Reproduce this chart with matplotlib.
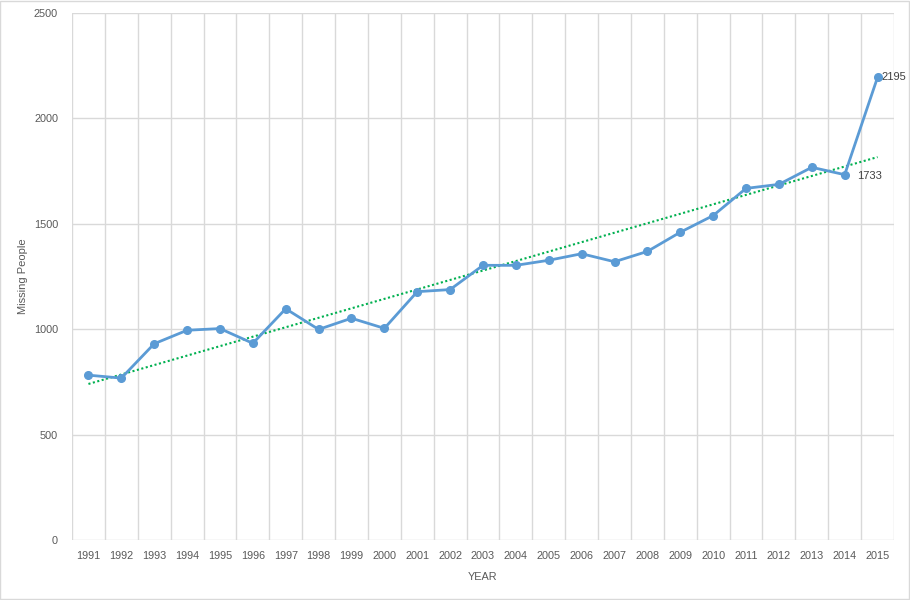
import numpy as np
import matplotlib
matplotlib.use("Agg")
import matplotlib.pyplot as plt

years = [str(y) for y in range(1991, 2016)]
missing = [782, 768, 931, 995, 1003, 933, 1097, 999, 1052, 1004,
           1178, 1188, 1303, 1303, 1327, 1358, 1320, 1369, 1460, 1539,
           1668, 1687, 1768, 1733, 2195]
labelled = {23: "1733", 24: "2195"}

plt.rcParams["font.family"] = ["Liberation Sans", "DejaVu Sans"]
grey = "#595959"
grid = "#D9D9D9"

fig = plt.figure(figsize=(9.1, 6), dpi=100)
ax = fig.add_axes([72 / 910, 60 / 600, 822 / 910, 527 / 600])

x = np.arange(len(years))
ax.plot(x, missing, color="#5B9BD5", lw=2, marker="o", ms=5.5, zorder=3)

# linear trendline like excel
k, b = np.polyfit(x, missing, 1)
ax.plot(x, k * x + b, color="#00B050", lw=1.5, ls=(0, (1, 1.2)), zorder=2)

ax.annotate(labelled[24], (x[24], missing[24]), xytext=(3, 0),
            textcoords="offset points", va="center", ha="left",
            fontsize=8, color="#404040")
ax.annotate(labelled[23], (x[23], missing[23]), xytext=(9, -1),
            textcoords="offset points", va="center", ha="left",
            fontsize=8, color="#404040")

ax.set_xlim(-0.5, len(years) - 0.5)
ax.set_ylim(0, 2500)
ax.set_xticks(x)
ax.set_xticklabels(years)
ax.set_xticks(np.arange(-0.5, len(years)), minor=True)
ax.set_yticks(np.arange(0, 2501, 500))
ax.grid(True, which="minor", axis="x", color=grid, lw=1)
ax.grid(True, which="major", axis="y", color=grid, lw=1)
ax.tick_params(axis="x", which="both", length=0, pad=8, labelsize=7.8, labelcolor=grey)
ax.tick_params(axis="y", length=0, pad=10, labelsize=7.8, labelcolor=grey)
for s in ax.spines.values():
    s.set_visible(False)
ax.set_axisbelow(True)

ax.set_xlabel("YEAR", fontsize=7.8, color=grey, labelpad=8)
ax.set_ylabel("Missing People", fontsize=8, color=grey)
ax.yaxis.set_label_coords(-44 / 822, 0.5)

# chart border
fig.patches.append(plt.Rectangle((0.0005, 0.001), 0.998, 0.998, transform=fig.transFigure,
                                 fill=False, edgecolor=grid, lw=1))

fig.savefig("out.png", dpi=100)
